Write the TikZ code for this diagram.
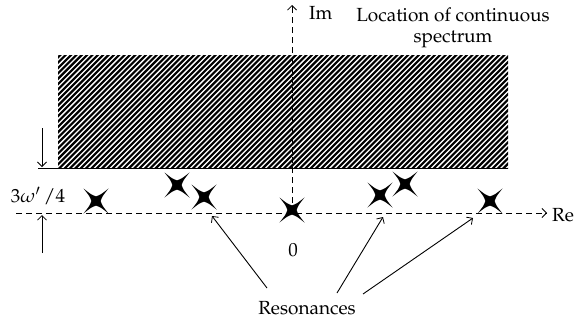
\documentclass[tikz,border=0pt]{standalone}
\usepackage[T1]{fontenc}
\usepackage{mathpazo}
\usetikzlibrary{arrows.meta,calc}
\begin{document}
\begin{tikzpicture}[x=1pt,y=-1pt,
  txt/.style={font=\fontsize{19}{21}\selectfont, inner sep=0pt},
  axis/.style={line width=0.9pt, dash pattern=on 6pt off 4pt},
  barb/.style={-{Straight Barb[length=4.5pt,width=9pt,line width=0.8pt]}},
  thin line/.style={line width=0.9pt},
  hatch/.style={line width=2.15pt},
  resstar/.pic={\fill (12.5,12.5) .. controls (5,6.5) .. (0,4.6) .. controls (-5,6.5) .. (-12.5,12.5)
     .. controls (-6.5,5) .. (-4.6,0) .. controls (-6.5,-5) .. (-12.5,-12.5)
     .. controls (-5,-6.5) .. (0,-4.6) .. controls (5,-6.5) .. (12.5,-12.5)
     .. controls (6.5,-5) .. (4.6,0) .. controls (6.5,5) .. cycle;}]
\useasboundingbox (0,0) rectangle (575,324);
% axes
\coordinate (reL) at (16,213);
\coordinate (reR) at (547,213);
\coordinate (imB) at (292,213);
\coordinate (imT) at (292,5);
\draw[axis] (reL) -- (reR);
\draw[thin line,barb] ($(reR)+(-2,0)$) -- (reR);
\draw[axis] (imB) -- (imT);
\draw[thin line,barb] ($(imT)+(0,2)$) -- (imT);
% hatched region
\begin{scope}
\clip (58,55) rectangle (508,168);
\foreach \i in {0,...,108} {
  \draw[hatch] ({-60+\i*5.35},170) -- ++(118,-118);
}
\end{scope}
\coordinate (bl) at (38,168);
\coordinate (br) at (508,168);
\draw[thin line] (bl) -- (br);
% 3w'/4 markers
\coordinate (dA) at (42,128);
\coordinate (dB) at (42,167);
\coordinate (uA) at (42,253);
\coordinate (uB) at (42,215);
\draw[thin line,barb] (dA) -- (dB);
\draw[thin line,barb] (uA) -- (uB);
\node[txt] (lab) at (38,196) {$3\omega'\,/4$};
% stars
\pic at (96,201) {resstar};
\pic at (177,185) {resstar};
\pic at (204,197) {resstar};
\pic at (292,210) {resstar};
\pic at (380,195) {resstar};
\pic at (405,184) {resstar};
\pic at (490,201) {resstar};
% labels
\node[txt,anchor=west] (im) at (309,13) {Im};
\node[txt,anchor=west] (re) at (552,215) {Re};
\node[txt,align=center] (loc) at (453,28) {Location of continuous\\spectrum};
\node[txt] (zero) at (293,250) {0};
\node[txt] (res) at (307,308) {Resonances};
% resonance arrows
\coordinate (t1) at (212,216);
\coordinate (t2) at (383,217);
\coordinate (t3) at (473,218);
\coordinate (s1) at (267,288);
\coordinate (s2) at (337,293);
\coordinate (s3) at (363,294);
\draw[thin line,barb] (s1) -- (t1);
\draw[thin line,barb] (s2) -- (t2);
\draw[thin line,barb] (s3) -- (t3);
\end{tikzpicture}
\end{document}
